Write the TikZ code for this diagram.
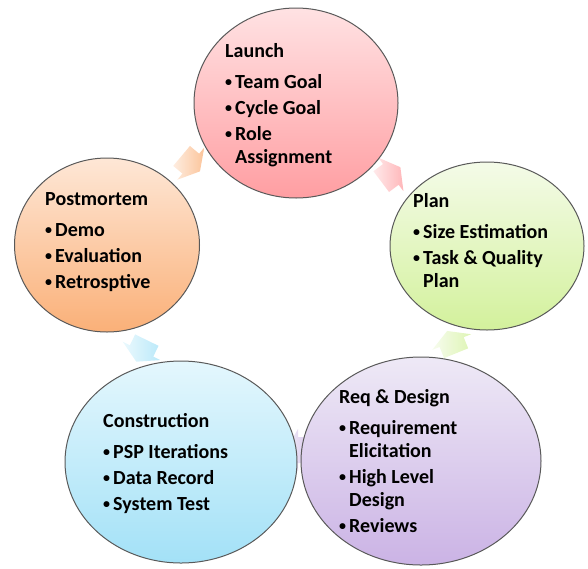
\documentclass[tikz,border=0pt]{standalone}
\usepackage{fontspec}
\setmainfont{Carlito}
\usetikzlibrary{positioning,shapes.geometric}

\newcommand{\bul}{\makebox[10pt][l]{\raisebox{2pt}{\scalebox{.7}{\textbullet}}}}
\newcommand{\hang}{\hspace*{10pt}}
% block arrow between two phases: position, direction, tail colour, head colour
\newcommand{\phasearrow}[4]{%
	\begin{scope}[shift={#1}, rotate=#2]
		\path[arr, left color=#3, right color=#4]
			(-11,-13) -- (1,-13) -- (1,-21) -- (13,0) -- (1,21) -- (1,13) -- (-11,13) -- cycle;
	\end{scope}}

\definecolor{launchtop}{HTML}{FFE2E3}
\definecolor{launchbot}{HTML}{FF9EA2}
\definecolor{plantop}{HTML}{F4FBE8}
\definecolor{planbot}{HTML}{D3F19C}
\definecolor{reqtop}{HTML}{EEE9F6}
\definecolor{reqbot}{HTML}{CBB3E5}
\definecolor{constop}{HTML}{E4F7FD}
\definecolor{consbot}{HTML}{A3E1F7}
\definecolor{posttop}{HTML}{FEE7D6}
\definecolor{postbot}{HTML}{FAB078}

\begin{document}
\begin{tikzpicture}[x=1pt, y=-1pt,
		phase/.style = {ellipse, draw=black!65, line width=1pt, inner sep=0pt},
		lbl/.style = {anchor=base west, inner sep=0pt, text=black,
			font=\fontsize{20}{23}\selectfont\bfseries},
		arr/.style = {opacity=.75}
	]
	\useasboundingbox (0,0) rectangle (588,568);

	% arrows first, the circles cover their ends
	\phasearrow{(190,163)}{-40}{posttop}{postbot}
	\phasearrow{(390,175)}{37}{launchtop}{launchbot}
	\phasearrow{(452,343)}{112}{plantop}{planbot}
	\phasearrow{(299,450)}{180}{reqtop}{reqbot}
	\phasearrow{(142,350)}{-116}{constop}{consbot}

	% the five phases
	\node[phase, minimum width=204pt, minimum height=190pt,
		top color=launchtop, bottom color=launchbot] (launch) at (296,103) {};
	\node[phase, minimum width=194pt, minimum height=168pt,
		top color=plantop, bottom color=planbot] (plan) at (487,246) {};
	\node[phase, minimum width=240pt, minimum height=208pt,
		top color=reqtop, bottom color=reqbot] (reqdesign) at (421,461) {};
	\node[phase, minimum width=232pt, minimum height=202pt,
		top color=constop, bottom color=consbot] (construction) at (181,462) {};
	\node[phase, minimum width=185pt, minimum height=174pt,
		top color=posttop, bottom color=postbot] (postmortem) at (107,245) {};

	% texts
	\node[lbl] (launchtxt) at (225,57) {\begin{tabular}[t]{@{}l@{}}
		Launch\\[8pt]
		\bul Team Goal\\[3pt]
		\bul Cycle Goal\\[3pt]
		\bul Role\\
		\hang Assignment
	\end{tabular}};
	\node[lbl] (plantxt) at (413,207) {\begin{tabular}[t]{@{}l@{}}
		Plan\\[8pt]
		\bul Size Estimation\\[3pt]
		\bul Task \& Quality\\
		\hang Plan
	\end{tabular}};
	\node[lbl] (reqtxt) at (339,403) {\begin{tabular}[t]{@{}l@{}}
		Req \& Design\\[8pt]
		\bul Requirement\\
		\hang Elicitation\\[3pt]
		\bul High Level\\
		\hang Design\\[3pt]
		\bul Reviews
	\end{tabular}};
	\node[lbl] (constxt) at (103,427) {\begin{tabular}[t]{@{}l@{}}
		Construction\\[8pt]
		\bul PSP Iterations\\[3pt]
		\bul Data Record\\[3pt]
		\bul System Test
	\end{tabular}};
	\node[lbl] (posttxt) at (45,205) {\begin{tabular}[t]{@{}l@{}}
		Postmortem\\[8pt]
		\bul Demo\\[3pt]
		\bul Evaluation\\[3pt]
		\bul Retrosptive
	\end{tabular}};
\end{tikzpicture}
\end{document}
